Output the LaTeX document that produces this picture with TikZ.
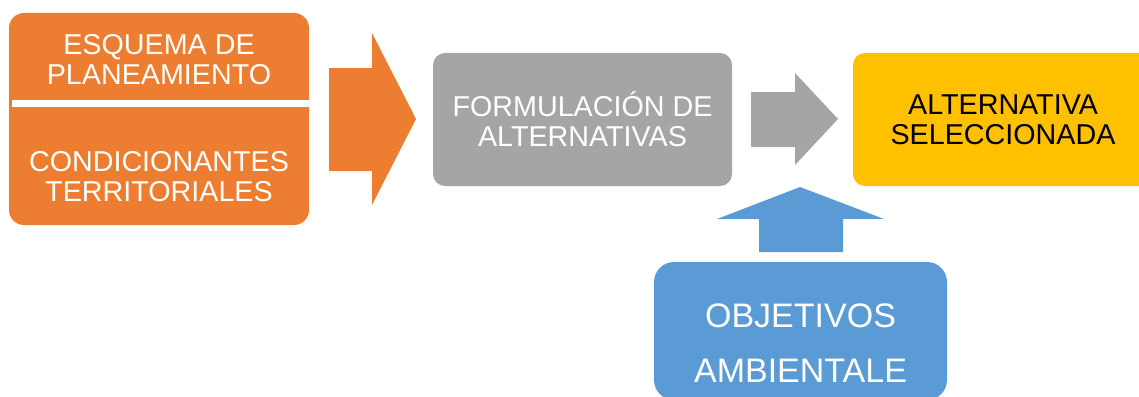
\documentclass[tikz,border=0pt]{standalone}
\usepackage{fontspec}
\setmainfont{Liberation Sans}
\usetikzlibrary{positioning}
\definecolor{naranja}{HTML}{ED7D31}
\definecolor{gris}{HTML}{A5A5A5}
\definecolor{amarillo}{HTML}{FFC000}
\definecolor{azul}{HTML}{5B9BD5}
\tikzset{
  box/.style={
    fill=#1,
    rounded corners=12pt,
    align=center,
    minimum width=300pt,
    minimum height=133pt,
    inner sep=0pt,
    text=white,
    font=\fontsize{28.7}{30}\selectfont
  },
  txt/.style={
    align=center,
    inner sep=0pt,
    text=white,
    font=\fontsize{28.7}{30}\selectfont
  },
  bigtxt/.style={
    align=center,
    inner sep=0pt,
    text=white,
    font=\fontsize{34}{55}\selectfont
  },
  sep/.style={white, line width=7pt},
  bigarrow/.style={fill=#1}
}

\begin{document}
\begin{tikzpicture}[x=1pt, y=-1pt]
\clip (0,0) rectangle (1139,396);

% --- Inputs (orange)
\node[box=naranja, rounded corners=15pt, minimum height=212pt] (plan) at (159,119) {};
\draw[sep] (12,103.5) -- (plan.east |- 0,103.5);
\node[txt] (esq) at (159,59.5) {ESQUEMA DE\\PLANEAMIENTO};
\node[txt] (cond) at (159,176.5) {CONDICIONANTES\\TERRITORIALES};

% --- Alternatives
\node[box=gris, minimum width=299pt] (form) at (582.5,119.5) {FORMULACIÓN DE\\ALTERNATIVAS};
\node[box=amarillo, text=black] (selec) at (1003,119.5) {ALTERNATIVA\\SELECCIONADA};

% --- Environmental objectives
\node[box=azul, rounded corners=20pt, minimum width=293pt, minimum height=138pt] (objbox) at (800.5,331) {};
\node[bigtxt] (obj) at (800.5,343.5) {OBJETIVOS\\AMBIENTALE};

% --- Block arrows
\fill[bigarrow=naranja] (329,68) -- (372,68) -- (372,33) -- (416,119) -- (372,205) -- (372,171) -- (329,171) -- cycle;
\fill[bigarrow=gris] (751,92) -- (795,92) -- (795,73) -- (838,119) -- (795,165) -- (795,147) -- (751,147) -- cycle;
\fill[bigarrow=azul] (759,252) -- (759,219) -- (717,219) -- (800,187) -- (884,219) -- (843,219) -- (843,252) -- cycle;

\end{tikzpicture}
\end{document}
